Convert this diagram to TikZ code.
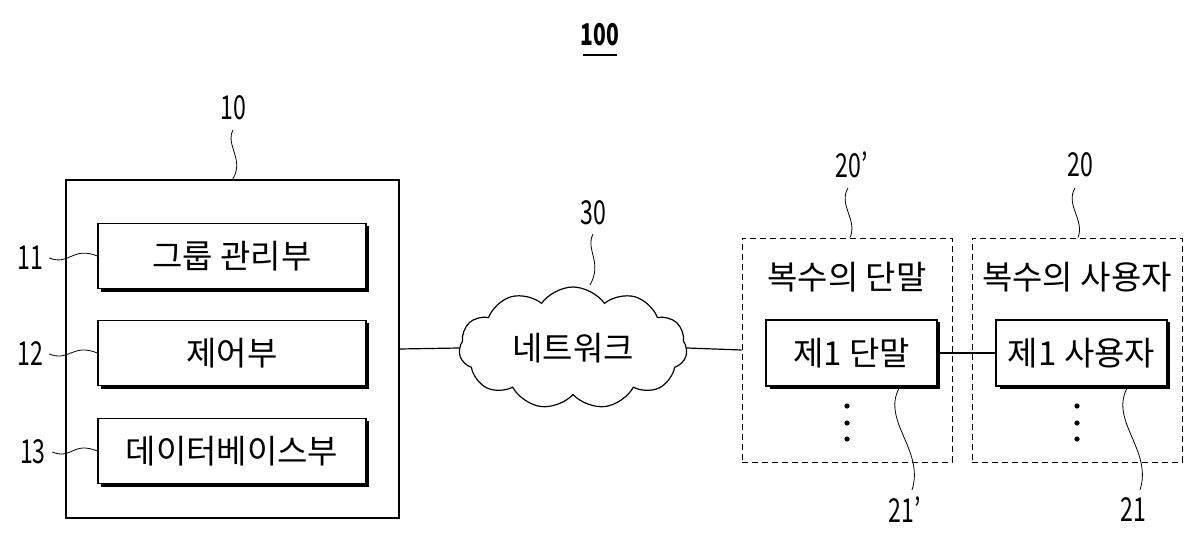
\documentclass[tikz,border=0pt]{standalone}
\usepackage{fontspec}
\setmainfont{Noto Sans CJK KR}
\usetikzlibrary{shapes.symbols}
\begin{document}
\begin{tikzpicture}[x=1pt,y=-1pt,line width=1.2pt,
  lbl/.style={font=\fontsize{33}{33}\selectfont,inner sep=0},
  num/.style={font=\fontsize{33}{33}\selectfont,inner sep=0,xscale=0.7},
  box/.style={draw,fill=white,inner sep=0,font=\fontsize{33}{33}\selectfont},
  sq/.style={line width=0.8pt},
  dbox/.style={draw,dashed,dash pattern=on 6pt off 4pt,line width=0.8pt}]
\useasboundingbox (0,0) rectangle (1200,548);
\node[num,font=\bfseries\fontsize{30}{30}\selectfont] (t100) at (600,35) {100};
\draw[line width=1.5pt] (583,55) -- (617,55);
% server
\node[draw,minimum width=333pt,minimum height=338pt,inner sep=0] (s10) at (232.5,349) {};
\foreach \n/\y/\t in {b11/256/{그룹 관리부},b12/353/{제어부},b13/451/{데이터베이스부}}{
  \fill (101,\y-30) rectangle (369,\y+36);
  \node[box,minimum width=268pt,minimum height=65pt] (\n) at (232,\y) {\t};
}
\node[num] (l10) at (233,108) {10};
\draw[sq] (233,130) .. controls (225,145) and (245,160) .. (s10.north);
\node[num] (l11) at (30,258) {11};
\node[num] (l12) at (30,354) {12};
\node[num] (l13) at (33,452) {13};
\foreach \a/\b in {l11/b11,l12/b12,l13/b13}{
  \draw[sq] ([xshift=6pt]\a.east) .. controls +(20,8) and +(-25,-10) .. (\b.west);
}
% cloud
\node[cloud,draw,cloud puffs=11,cloud puff arc=110,aspect=2.1,minimum width=228pt,minimum height=122pt,inner sep=0,font=\fontsize{33}{33}\selectfont] (c30) at (573,348) {네트워크};
\node[num] (l30) at (593,213) {30};
\draw[sq] (593,234) .. controls (585,250) and (603,262) .. (590,285);
% terminal groups
\node[dbox,minimum width=210pt,minimum height=224pt] (g20p) at (847,350) {};
\node[dbox,minimum width=210pt,minimum height=224pt] (g20) at (1077,350) {};
\node[lbl] (t20p) at (847,277) {복수의 단말};
\node[lbl] (t20) at (1077,277) {복수의 사용자};
\fill (770,322) rectangle (940,389);
\fill (1000,322) rectangle (1170,389);
\node[box,minimum width=171pt,minimum height=66pt] (b21p) at (851.5,353) {제1 단말};
\node[box,minimum width=171pt,minimum height=66pt] (b21) at (1081.5,353) {제1 사용자};
\foreach \x in {847,1077}{\foreach \y in {406,423,439}{\fill (\x,\y) circle (2.6pt);}}
\node[num] (l20p) at (852,165) {20'};
\node[num] (l20) at (1080,165) {20};
\draw[sq] (848,188) .. controls (838,205) and (858,220) .. (g20p.north-|850,0);
\draw[sq] (1075,188) .. controls (1065,205) and (1085,220) .. (g20.north-|1078,0);
\node[num] (l21p) at (905,510) {21'};
\node[num] (l21) at (1133,510) {21};
\draw[sq] (b21p.south-|900,0) .. controls (880,420) and (925,450) .. (912,490);
\draw[sq] (b21.south-|1128,0) .. controls (1108,420) and (1153,450) .. (1140,490);
% connectors
\draw (s10.east) -- (c30.west);
\draw (c30.east) -- (g20p.west);
\draw (b21p.east) -- (b21.west);
\end{tikzpicture}
\end{document}
